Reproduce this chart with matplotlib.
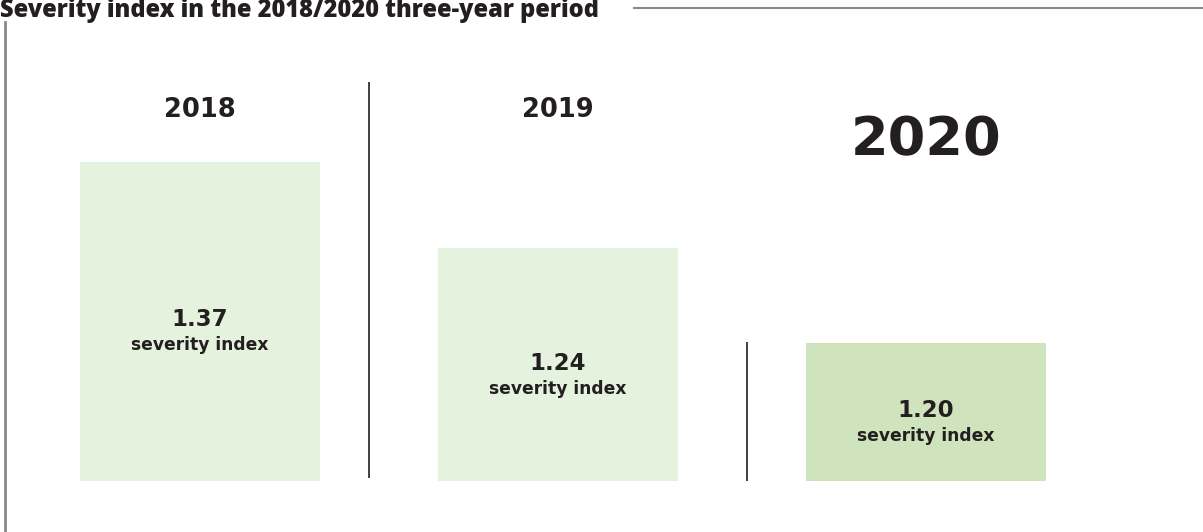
import numpy as np
import matplotlib
matplotlib.use('Agg')
import matplotlib.pyplot as plt
from matplotlib.lines import Line2D

# severity index by year (bar heights as drawn in the infographic, in px)
years = ['2018', '2019', '2020']
values = ['1.37', '1.24', '1.20']
bar_heights = [319, 233, 138]
bar_colors = ['#e5f2de', '#e5f2de', '#cfe3bd']
year_sizes = [18.5, 18.5, 39]
year_baselines = [364, 364, 326]

W, H = 1203, 532
dark = '#231f20'
plt.rcParams['font.family'] = ['DejaVu Sans']

fig = plt.figure(figsize=(W / 100, H / 100), dpi=100)
ax = fig.add_axes([0, 0, 1, 1])
unit = 363
ax.set_xlim(-200 / unit, (W - 200) / unit)
ax.set_ylim(-(H - 481), 481)
ax.axis('off')

x = np.array([0, 0.986, 2])
ax.bar(x, bar_heights, width=240 / unit, color=bar_colors, linewidth=0)

for i in range(len(years)):
    mid = bar_heights[i] / 2
    ax.text(x[i], mid - 5, values[i], ha='center', va='baseline',
            fontsize=16.5, fontweight='bold', color=dark)
    ax.text(x[i], mid - 29, 'severity index', ha='center', va='baseline',
            fontsize=12.3, fontweight='bold', color=dark)
    ax.text(x[i], year_baselines[i], years[i], ha='center', va='baseline',
            fontsize=year_sizes[i], fontweight='bold', color=dark)

# separators between the years
ax.vlines([(369 - 200) / unit], 3, 399, color=dark, lw=1.2)
ax.vlines([(747 - 200) / unit], 0, bar_heights[2] + 1, color=dark, lw=1.2)

fig.text(0, 1 - 17 / H, 'Severity index in the 2018/2020 three-year period',
         ha='left', va='baseline', fontsize=17, fontweight=800,
         family=['Open Sans', 'DejaVu Sans'], color=dark)
fig.add_artist(Line2D([634 / W, 1], [1 - 8 / H, 1 - 8 / H],
                      color='#8a8a8a', lw=1.5, transform=fig.transFigure))
fig.add_artist(Line2D([4.5 / W, 4.5 / W], [0, 1 - 22 / H],
                      color='#8a8a8a', lw=2, transform=fig.transFigure))

fig.savefig('out.png', dpi=100)
